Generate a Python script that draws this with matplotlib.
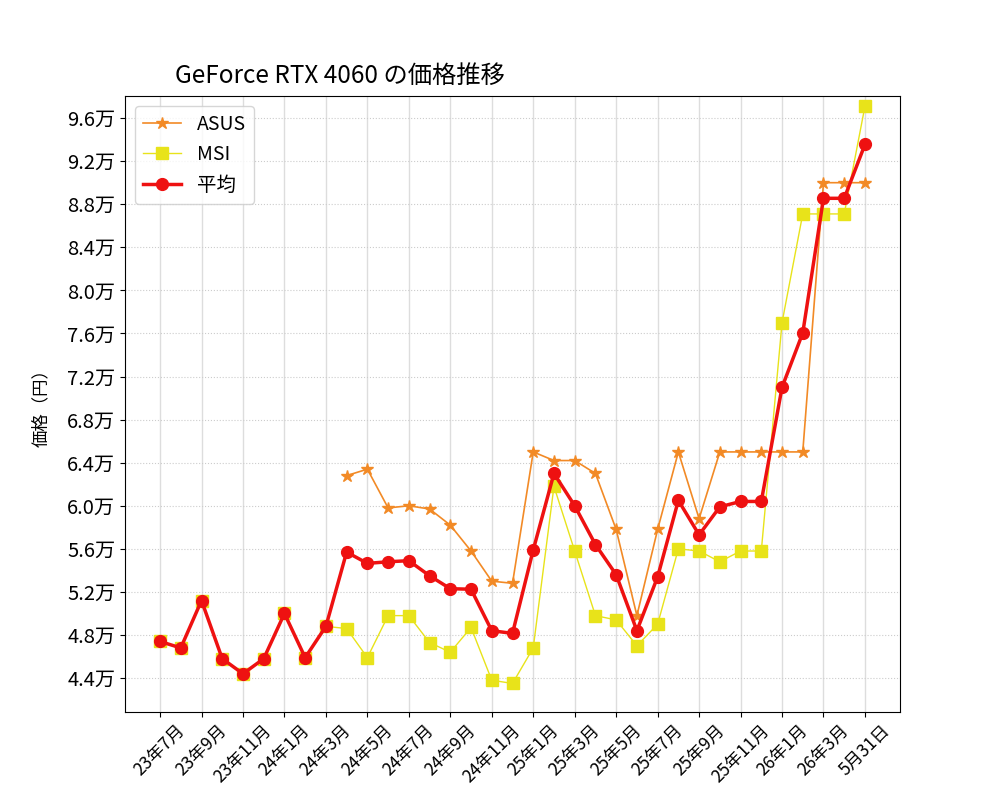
import matplotlib
matplotlib.use("Agg")
import matplotlib.pyplot as plt
import numpy as np

plt.rcParams['font.family'] = ['Noto Sans CJK JP', 'DejaVu Sans']

# 月ごとのデータ (23年7月 ～ 26年4月, 最後は5月31日)
labels = ["23年7月", "23年8月", "23年9月", "23年10月", "23年11月", "23年12月",
          "24年1月", "24年2月", "24年3月", "24年4月", "24年5月", "24年6月",
          "24年7月", "24年8月", "24年9月", "24年10月", "24年11月", "24年12月",
          "25年1月", "25年2月", "25年3月", "25年4月", "25年5月", "25年6月",
          "25年7月", "25年8月", "25年9月", "25年10月", "25年11月", "25年12月",
          "26年1月", "26年2月", "26年3月", "26年4月", "5月31日"]

nan = np.nan
asus = [nan, nan, nan, nan, nan, nan, nan, nan, nan,
        62800, 63400, 59800, 60000, 59700, 58200, 55800, 53000, 52800,
        65000, 64200, 64200, 63000, 57800, 49800, 57800, 65000, 58800,
        65000, 65000, 65000, 65000, 65000, 90000, 90000, 90000]
msi = [47400, 46800, 51200, 45800, 44400, 45800, 50000, 45900, 48800,
       48600, 45900, 49800, 49800, 47300, 46400, 48700, 43800, 43500,
       46800, 61800, 55800, 49800, 49400, 47000, 49000, 56000, 55800,
       54800, 55800, 55800, 77000, 87100, 87100, 87100, 97100]
heikin = [47400, 46800, 51200, 45800, 44400, 45800, 50000, 45900, 48800,
          55700, 54650, 54800, 54900, 53500, 52300, 52250, 48400, 48150,
          55900, 63000, 60000, 56400, 53600, 48400, 53400, 60500, 57300,
          59900, 60400, 60400, 71000, 76050, 88550, 88550, 93550]

x = np.arange(len(labels))

fig, ax = plt.subplots(figsize=(10, 8), dpi=100)

ax.plot(x, asus, color='#f28a26', marker='*', markersize=9, linewidth=1.2, label='ASUS')
ax.plot(x, msi, color='#e8e31a', marker='s', markersize=8.5, linewidth=1.0, label='MSI')
ax.plot(x, heikin, color='#ee1111', marker='o', markersize=8.5, linewidth=2.5, label='平均')

# 目盛り
tick_idx = list(range(0, len(labels), 2))
ax.set_xticks(tick_idx)
ax.set_xticklabels([labels[i] for i in tick_idx], rotation=45, ha='center', fontsize=12.5)

yticks = np.arange(44000, 96001, 4000)
ax.set_yticks(yticks)
ax.set_yticklabels([f"{v/10000:.1f}万" for v in yticks], fontsize=14.5)
ax.set_ylim(40850, 98050)
ax.set_xlim(-1.69, 35.69)

ax.grid(True, axis='x', color='#dddddd', linewidth=1.0)
ax.grid(True, axis='y', color='#cccccc', linewidth=0.8, linestyle=':')

ax.set_ylabel('価格（円）', fontsize=12.5, labelpad=12)
ax.text(0.065, 1.012, 'GeForce RTX 4060 の価格推移', transform=ax.transAxes,
        fontsize=17.5, ha='left', va='bottom')
ax.legend(loc='upper left', fontsize=14)

plt.savefig('out.png')
